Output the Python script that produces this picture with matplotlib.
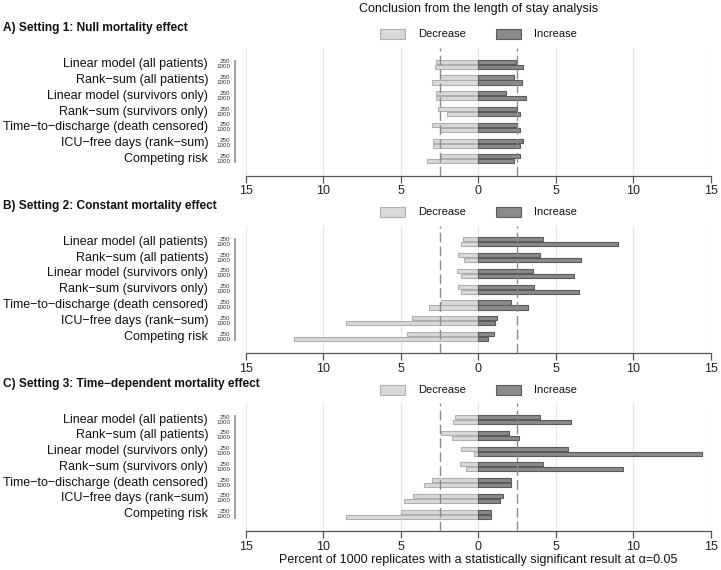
import matplotlib
matplotlib.use("Agg")
import matplotlib.pyplot as plt
import numpy as np
from matplotlib.patches import Rectangle

plt.rcParams['font.family'] = ['Liberation Sans', 'DejaVu Sans']

methods = ["Linear model (all patients)", "Rank\u2212sum (all patients)",
           "Linear model (survivors only)", "Rank\u2212sum (survivors only)",
           "Time\u2212to\u2212discharge (death censored)", "ICU\u2212free days (rank\u2212sum)",
           "Competing risk"]
sizes = ["250", "1000"]
titles = ["A) Setting 1: Null mortality effect",
          "B) Setting 2: Constant mortality effect",
          "C) Setting 3: Time\u2212dependent mortality effect"]

# Panel A
a_dec_250 = [2.7, 2.5, 2.7, 2.6, 3.0, 2.9, 2.4]
a_dec_1000 = [2.8, 3.0, 2.7, 2.0, 2.5, 2.9, 3.3]
a_inc_250 = [2.4, 2.3, 1.8, 2.5, 2.5, 2.9, 2.7]
a_inc_1000 = [2.9, 2.8, 3.1, 2.7, 2.7, 2.7, 2.3]
# Panel B
b_dec_250 = [1.0, 1.3, 1.4, 1.3, 2.4, 4.3, 4.6]
b_dec_1000 = [1.1, 0.9, 1.1, 1.1, 3.2, 8.5, 11.9]
b_inc_250 = [4.2, 4.0, 3.5, 3.6, 2.1, 1.2, 1.0]
b_inc_1000 = [9.0, 6.6, 6.2, 6.5, 3.2, 1.1, 0.6]
# Panel C
c_dec_250 = [1.5, 2.4, 1.1, 1.2, 3.0, 4.2, 5.0]
c_dec_1000 = [1.6, 1.7, 0.3, 0.8, 3.5, 4.8, 8.5]
c_inc_250 = [4.0, 2.0, 5.8, 4.2, 2.1, 1.6, 0.8]
c_inc_1000 = [6.0, 2.6, 14.4, 9.3, 2.1, 1.4, 0.8]

panels = [
    (a_dec_250, a_dec_1000, a_inc_250, a_inc_1000),
    (b_dec_250, b_dec_1000, b_inc_250, b_inc_1000),
    (c_dec_250, c_dec_1000, c_inc_250, c_inc_1000),
]

xticks = [-15, -10, -5, 0, 5, 10, 15]
xticklabels = ["15", "10", "5", "0", "5", "10", "15"]
threshold = 2.5

W, H = 721, 570
fig = plt.figure(figsize=(W / 100, H / 100), dpi=100)

def fx(x):
    return x / W

def fy(y):
    return 1 - y / H

dec_fc, dec_ec = "#d9d9d9", "#b0b0b0"
inc_fc, inc_ec = "#8a8a8a", "#5a5a5a"

ax_left, ax_right = 245.7, 710.9
ax_h = 127.7
tops = [48.0, 225.7, 403.4]
off = 0.159
bh = 0.26

for k, (d250, d1000, i250, i1000) in enumerate(panels):
    top = tops[k]
    ax = fig.add_axes([fx(ax_left), fy(top + ax_h), fx(ax_right - ax_left), ax_h / H])
    n = len(methods)
    y = np.arange(n)
    ax.set_xlim(-15, 15)
    ax.set_ylim(n - 1 + 1.07, -1.03)
    for xv in xticks:
        ax.axvline(xv, color="#e8e8e8", lw=0.9, zorder=0)
    ax.barh(y - off, -np.array(d250), height=bh, color=dec_fc, edgecolor=dec_ec, lw=0.8, zorder=2)
    ax.barh(y + off, -np.array(d1000), height=bh, color=dec_fc, edgecolor=dec_ec, lw=0.8, zorder=2)
    ax.barh(y - off, i250, height=bh, color=inc_fc, edgecolor=inc_ec, lw=0.8, zorder=2)
    ax.barh(y + off, i1000, height=bh, color=inc_fc, edgecolor=inc_ec, lw=0.8, zorder=2)
    for xv in (-threshold, threshold):
        ax.axvline(xv, color="#8c8c8c", lw=1.0, dashes=(7, 3), zorder=3)
    for s in ["top", "right", "left"]:
        ax.spines[s].set_visible(False)
    ax.spines["bottom"].set_color("#555555")
    ax.spines["bottom"].set_linewidth(0.9)
    ax.spines["bottom"].set_bounds(-15, 15)
    ax.set_xticks(xticks)
    ax.set_xticklabels(xticklabels, fontsize=9, color="#222222")
    ax.tick_params(axis="x", length=5, color="#555555", width=0.9, pad=2)
    ax.set_yticks([])
    # method labels
    axw = ax_right - ax_left
    for i, m in enumerate(methods):
        ax.text((208 - ax_left) / axw, i, m, transform=ax.get_yaxis_transform(),
                ha="right", va="center", fontsize=9, color="#111111")
        ax.text((230.5 - ax_left) / axw, i - off, sizes[0], transform=ax.get_yaxis_transform(),
                ha="right", va="center", fontsize=4.5, color="#333333")
        ax.text((230.5 - ax_left) / axw, i + off, sizes[1], transform=ax.get_yaxis_transform(),
                ha="right", va="center", fontsize=4.5, color="#333333")
    ax.plot([(235 - ax_left) / axw] * 2, [-off - 0.05, n - 1 + off + 0.05],
            transform=ax.get_yaxis_transform(), color="#999999", lw=1.3, clip_on=False)
    # panel title
    fig.text(fx(3), fy(top - 19.7), titles[k], fontsize=8.6, fontweight="bold",
             ha="left", va="center", color="#111111")
    # legend
    ly = top - 13.8
    fig.patches.append(Rectangle((fx(380), fy(ly + 5)), fx(25), 10 / H, transform=fig.transFigure,
                                 facecolor=dec_fc, edgecolor=dec_ec, lw=0.8))
    fig.text(fx(417.7), fy(ly), "Decrease", fontsize=8, ha="left", va="center", color="#111111")
    fig.patches.append(Rectangle((fx(496), fy(ly + 5)), fx(25), 10 / H, transform=fig.transFigure,
                                 facecolor=inc_fc, edgecolor=inc_ec, lw=0.8))
    fig.text(fx(533.7), fy(ly), "Increase", fontsize=8, ha="left", va="center", color="#111111")

fig.text(fx(478.3), fy(9), "Conclusion from the length of stay analysis", fontsize=9,
         ha="center", va="center", color="#111111")
fig.text(fx(478.3), fy(560), "Percent of 1000 replicates with a statistically significant result at \u03b1=0.05",
         fontsize=9, ha="center", va="center", color="#111111")

fig.savefig("out.png", dpi=100)
